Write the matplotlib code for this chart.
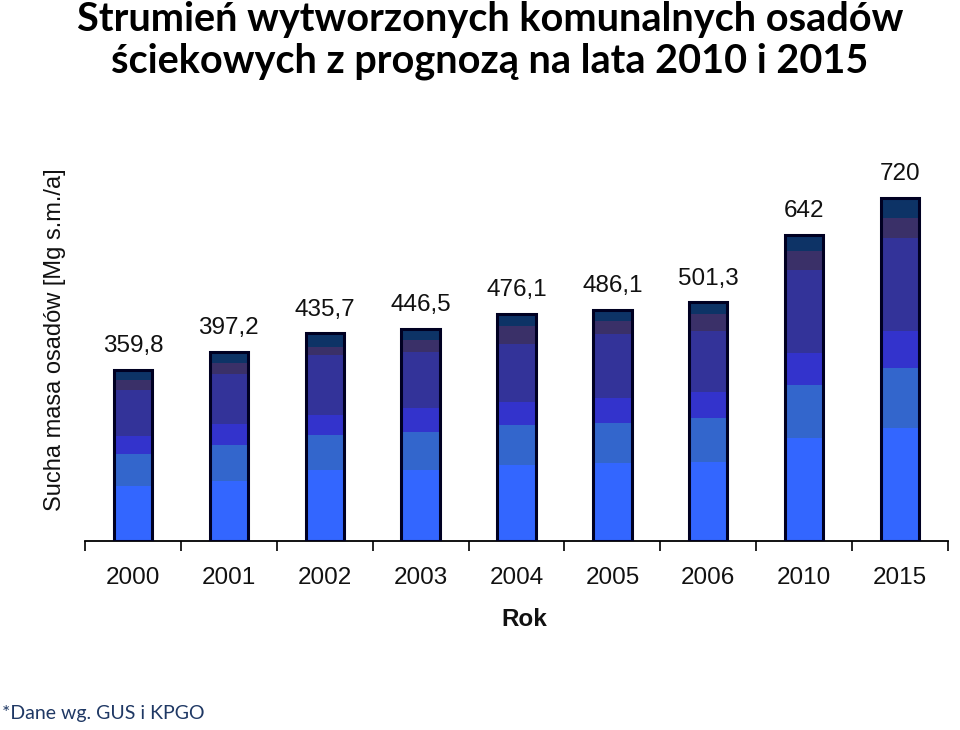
import matplotlib
matplotlib.use("Agg")
import matplotlib.pyplot as plt
import numpy as np

years = ["2000", "2001", "2002", "2003", "2004", "2005", "2006", "2010", "2015"]
totals = ["359,8", "397,2", "435,7", "446,5", "476,1", "486,1", "501,3", "642", "720"]

seg_bright = [116, 127, 149, 149, 159, 164, 166, 216, 237]
seg_steel = [67, 75, 73, 80, 84, 84, 93, 111, 126]
seg_indigo = [37, 44, 42, 50, 48, 53, 53, 67, 78]
seg_dark = [98, 104, 126, 117, 123, 133, 128, 174, 195]
seg_purple = [21, 23, 17, 25, 37, 27, 36, 40, 42]
seg_navy = [21, 24, 29, 25, 25, 25, 25, 34, 42]

segments = [seg_bright, seg_steel, seg_indigo, seg_dark, seg_purple, seg_navy]
colors = ["#3366ff", "#3366cc", "#3333cc", "#333399", "#3a3068", "#0d3366"]

W, H = 960, 730
fig = plt.figure(figsize=(9.6, 7.3), dpi=100)
ax = fig.add_axes([85 / W, 1 - 541 / H, (948 - 85) / W, (541 - 160) / H])

x = np.arange(len(years))
bottom = np.zeros(len(years))
for seg, c in zip(segments, colors):
    ax.bar(x, seg, bottom=bottom, width=0.4, color=c, edgecolor="none", zorder=2)
    bottom += np.array(seg)
ax.bar(x, bottom, width=0.4, fill=False, edgecolor="#000022", linewidth=2.2, zorder=3)

for xi, tot, lab in zip(x, bottom, totals):
    ax.text(xi, tot + 50, lab, ha="center", va="center", fontsize=17.5,
            family="Liberation Sans", color="#111111")

ax.set_xlim(-0.5, len(years) - 0.5)
ax.set_ylim(0, 800)
for s in ["top", "right", "left"]:
    ax.spines[s].set_visible(False)
ax.spines["bottom"].set_linewidth(1.3)
ax.set_yticks([])
ax.set_xticks(np.arange(-0.5, len(years), 1.0))
ax.set_xticklabels([])
ax.tick_params(axis="x", length=7, width=1.2, direction="out")
for xi, yr in zip(x, years):
    ax.text(xi, -78, yr, ha="center", va="center", fontsize=17.5, family="Liberation Sans",
            color="#111111", clip_on=False)
fig.text(524 / W, 1 - 620 / H, "Rok", ha="center", va="center",
         fontsize=17.5, fontweight="bold", family="Liberation Sans", color="#111111")

fig.text(55 / W, 1 - 340 / H, "Sucha masa osadów [Mg s.m./a]", rotation=90,
         ha="center", va="center", fontsize=17, family="Liberation Sans", color="#111111")

fig.text(490 / W, 1 - 1 / H,
         "Strumień wytworzonych komunalnych osadów\nściekowych z prognozą na lata 2010 i 2015",
         ha="center", va="top", fontsize=28.5, fontweight="bold", family="Lato",
         color="#000000", linespacing=1.15)

fig.text(2 / W, 1 - 714 / H, "*Dane wg. GUS i KPGO", ha="left", va="center",
         fontsize=14, family="Lato", color="#1f3864")

fig.savefig("out.png", dpi=100)
